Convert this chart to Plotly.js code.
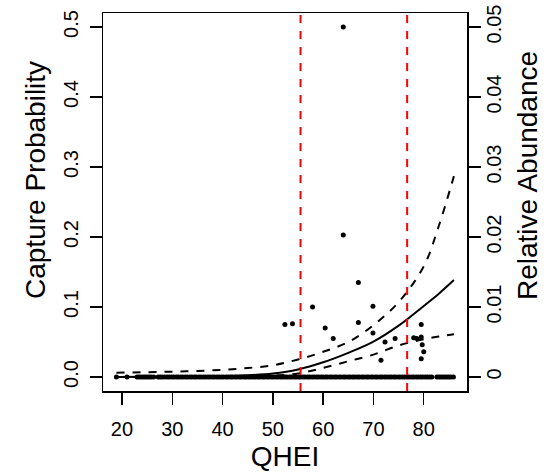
<!DOCTYPE html>
<html>
<head>
<meta charset="utf-8">
<script src="https://cdn.plot.ly/plotly-3.0.1.min.js"></script>
<style>html,body{margin:0;padding:0;background:#fff;}#chart{width:555px;height:472px;}</style>
</head>
<body>
<div id="chart"></div>
<script>
// Sites where the species was not captured (relative abundance 0)
const zeroQHEI = [18.9, 21.0, 23.0, 23.4, 23.8, 24.2, 24.6, 25.0, 25.4, 25.8, 26.3, 27.2, 27.6, 28.0, 28.5, 29.0, 29.4, 29.9, 30.3, 30.8, 31.2, 31.7, 32.1, 32.6, 33.0, 33.5, 33.9, 34.4, 34.8, 35.3, 35.7, 36.2, 36.6, 37.1, 37.5, 38.0, 38.4, 38.9, 39.3, 39.8, 40.2, 40.7, 41.1, 41.6, 42.0, 42.5, 42.9, 43.4, 43.8, 44.3, 44.7, 45.2, 45.6, 46.1, 46.5, 47.0, 47.4, 47.9, 48.3, 48.8, 49.2, 49.7, 50.1, 50.6, 51.0, 51.5, 51.9, 52.4, 52.8, 53.3, 53.7, 54.2, 54.6, 55.1, 55.5, 56.0, 56.4, 56.9, 57.3, 57.8, 58.2, 58.7, 59.1, 59.6, 60.0, 60.5, 60.9, 61.4, 61.8, 62.3, 62.7, 63.2, 63.6, 64.1, 64.5, 65.0, 65.4, 65.9, 66.3, 66.8, 67.2, 67.7, 68.1, 68.6, 69.0, 69.5, 69.9, 70.4, 70.8, 71.3, 71.7, 72.2, 72.6, 73.1, 73.5, 74.0, 74.4, 74.9, 75.3, 75.8, 76.2, 76.7, 77.1, 77.6, 78.0, 78.5, 78.9, 79.4, 79.8, 80.3, 80.7, 81.2, 81.6, 82.6, 83.0, 83.4, 83.8, 84.2, 84.6, 85.0, 85.4, 85.9];
const zeroRA = zeroQHEI.map(() => 0);

// Sites with captures: QHEI and relative abundance
const hitQHEI = [52.4, 53.9, 57.9, 60.4, 62.0, 64.0, 64.0, 67.0, 67.0, 69.9, 69.9, 71.5, 72.3, 74.3, 78.0, 78.6, 79.5, 79.5, 79.7, 80.0, 79.5];
const hitRA   = [0.0075, 0.0076, 0.0100, 0.0070, 0.0055, 0.0500, 0.0203, 0.0135, 0.0078, 0.0101, 0.0063, 0.0024, 0.0050, 0.0055, 0.0056, 0.0055, 0.0075, 0.0057, 0.0046, 0.0036, 0.0026];

// Fitted capture probability and confidence band
const fitQHEI  = [18.9, 25, 30, 35, 40, 45, 50, 55, 60, 65, 70, 75, 80, 83, 86];
const fitProb  = [0.0001, 0.0002, 0.0003, 0.0006, 0.0012, 0.0024, 0.0050, 0.0108, 0.0210, 0.0345, 0.0505, 0.0733, 0.1015, 0.1190, 0.1385];
const upperCI  = [0.0062, 0.0068, 0.0076, 0.0087, 0.0102, 0.0128, 0.0168, 0.0250, 0.0360, 0.0500, 0.0740, 0.1070, 0.1580, 0.2160, 0.2870];
const lowerCI  = [0.0000, 0.0000, 0.0000, 0.0001, 0.0002, 0.0006, 0.0020, 0.0050, 0.0130, 0.0225, 0.0320, 0.0450, 0.0540, 0.0578, 0.0610];

// Vertical reference lines (QHEI thresholds)
const thresholds = [55.5, 76.7];

const xTicks = [20, 30, 40, 50, 60, 70, 80];
const yTicks = [0, 0.1, 0.2, 0.3, 0.4, 0.5];
const yTickText = ['0.0', '0.1', '0.2', '0.3', '0.4', '0.5'];
const y2Ticks = [0, 0.01, 0.02, 0.03, 0.04, 0.05];
const y2TickText = ['0', '0.01', '0.02', '0.03', '0.04', '0.05'];

const xTitle = 'QHEI';
const yTitle = 'Capture Probability';
const y2Title = 'Relative Abundance';

const FONT = 'Liberation Sans, Arial, Helvetica, sans-serif';

const traces = [
  {x: zeroQHEI, y: zeroRA, yaxis: 'y2', type: 'scatter', mode: 'markers',
   marker: {color: '#000', size: 5}, showlegend: false},
  {x: hitQHEI, y: hitRA, yaxis: 'y2', type: 'scatter', mode: 'markers',
   marker: {color: '#000', size: 5}, showlegend: false},
  {x: fitQHEI, y: upperCI, type: 'scatter', mode: 'lines',
   line: {color: '#000', width: 2, dash: '8px,8px', shape: 'spline'}, showlegend: false},
  {x: fitQHEI, y: lowerCI, type: 'scatter', mode: 'lines',
   line: {color: '#000', width: 2, dash: '8px,8px', shape: 'spline'}, showlegend: false},
  {x: fitQHEI, y: fitProb, type: 'scatter', mode: 'lines',
   line: {color: '#000', width: 2, shape: 'spline'}, showlegend: false}
];

const shapes = thresholds.map(v => ({
  type: 'line', xref: 'x', yref: 'paper', x0: v, x1: v, y0: 0, y1: 1,
  line: {color: '#ff0000', width: 2, dash: '8px,8px'}
}));

const titleFont = {family: FONT, size: 28, color: '#000'};

const annotations = [
  {text: yTitle, xref: 'paper', yref: 'paper', x: 0, y: 0.5, xanchor: 'center', yanchor: 'middle',
   xshift: -68, yshift: 22, textangle: -90, showarrow: false, font: titleFont},
  {text: y2Title, xref: 'paper', yref: 'paper', x: 1, y: 0.5, xanchor: 'center', yanchor: 'middle',
   xshift: 60, yshift: 26, textangle: -90, showarrow: false, font: titleFont}
];

const axisCommon = {
  showgrid: false, zeroline: false, showline: true, linecolor: '#000', linewidth: 1.5,
  ticks: 'outside', ticklen: 12, tickwidth: 1.5, tickcolor: '#000',
  tickfont: {family: FONT, size: 20, color: '#000'}, automargin: false
};

const layout = {
  width: 555, height: 472,
  margin: {l: 103, r: 88, t: 13, b: 81, pad: 0},
  paper_bgcolor: '#fff', plot_bgcolor: '#fff',
  font: {family: FONT, color: '#000'},
  showlegend: false,
  xaxis: Object.assign({}, axisCommon, {
    range: [16.23, 88.6], tickmode: 'array', tickvals: xTicks, mirror: true,
    ticklabelstandoff: 7,
    title: {text: xTitle, font: titleFont, standoff: 9}
  }),
  yaxis: Object.assign({}, axisCommon, {
    range: [-0.02, 0.52], tickmode: 'array', tickvals: yTicks, ticktext: yTickText,
    tickangle: -90, mirror: true, ticklabelstandoff: 4
  }),
  yaxis2: Object.assign({}, axisCommon, {
    overlaying: 'y', side: 'right', anchor: 'x',
    range: [-0.002, 0.052], tickmode: 'array', tickvals: y2Ticks, ticktext: y2TickText,
    tickangle: -90, ticklabelstandoff: -4
  }),
  annotations: annotations,
  shapes: shapes
};

Plotly.newPlot('chart', traces, layout, {displayModeBar: false, staticPlot: true});
</script>
</body>
</html>
